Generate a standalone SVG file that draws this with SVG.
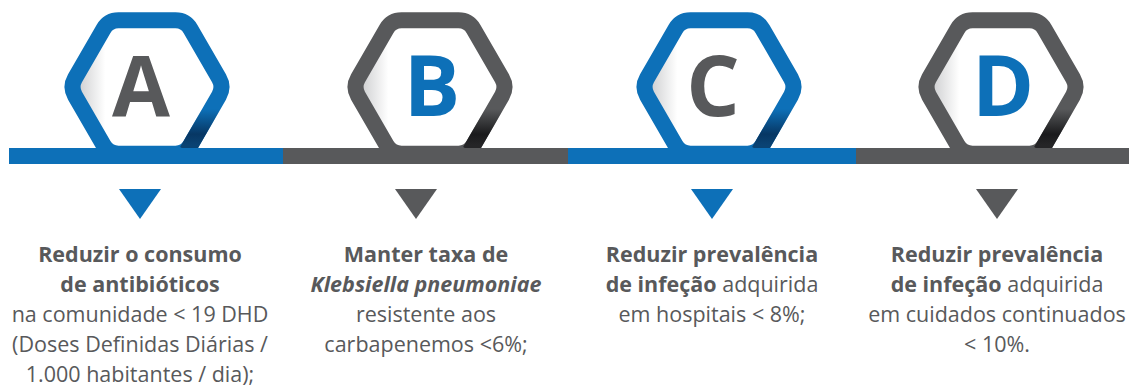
<svg xmlns="http://www.w3.org/2000/svg" xmlns:xlink="http://www.w3.org/1999/xlink" width="1129" height="390" viewBox="0 0 1129 390">
<style>
.blue-s{stroke:#0d70b8}
.gray-s{stroke:#58595b}
.hexline{fill:none;stroke-width:16}
.letter{font-family:"Open Sans","Liberation Sans",sans-serif;font-weight:700;font-size:84px;text-anchor:middle}
.lb{fill:#0d70b8}
.lg{fill:#58595b}
.txt{font-family:"Open Sans","Liberation Sans",sans-serif;font-size:21.5px;fill:#58595b;text-anchor:middle}
.b{font-weight:700}
.bi{font-weight:700;font-style:italic}
</style>
<defs>
<path id="hex" d="M -28.5,-66.7 L 28.5,-66.7 Q 38.5,-66.7 43.5,-58.04 L 72,-8.66 Q 77,0 72,8.66 L 43.5,58.04 Q 38.5,66.7 28.5,66.7 L -28.5,66.7 Q -38.5,66.7 -43.5,58.04 L -72,8.66 Q -77,0 -72,-8.66 L -43.5,-58.04 Q -38.5,-66.7 -28.5,-66.7 Z"/>
<linearGradient id="inner" x1="0" y1="0" x2="1" y2="0">
<stop offset="0" stop-color="#c4c5c7"/>
<stop offset="0.22" stop-color="#ffffff"/>
<stop offset="1" stop-color="#ffffff"/>
</linearGradient>
<linearGradient id="shB" gradientUnits="userSpaceOnUse" x1="0" y1="22" x2="0" y2="58">
<stop offset="0" stop-color="#073764" stop-opacity="0"/>
<stop offset="0.7" stop-color="#073764" stop-opacity="1"/>
<stop offset="1" stop-color="#0a4373" stop-opacity="1"/>
</linearGradient>
<linearGradient id="shG" gradientUnits="userSpaceOnUse" x1="0" y1="22" x2="0" y2="58">
<stop offset="0" stop-color="#1a1a1c" stop-opacity="0"/>
<stop offset="0.7" stop-color="#1a1a1c" stop-opacity="1"/>
<stop offset="1" stop-color="#252527" stop-opacity="1"/>
</linearGradient>
<path id="shpath" d="M 72,8.66 L 43.5,58.04 L 40,64"/>
</defs>

<g id="node-A">
<g transform="translate(147,87)">
<use xlink:href="#hex" fill="url(#inner)"/>
<use xlink:href="#hex" class="hexline blue-s"/>
<use xlink:href="#shpath" fill="none" stroke="url(#shB)" stroke-width="16"/>
</g>
<text class="letter lg" x="141" y="116">A</text>
</g>

<g id="node-B">
<g transform="translate(430,87)">
<use xlink:href="#hex" fill="url(#inner)"/>
<use xlink:href="#hex" class="hexline gray-s"/>
<use xlink:href="#shpath" fill="none" stroke="url(#shG)" stroke-width="16"/>
</g>
<text class="letter lb" x="432" y="116">B</text>
</g>

<g id="node-C">
<g transform="translate(719,87)">
<use xlink:href="#hex" fill="url(#inner)"/>
<use xlink:href="#hex" class="hexline blue-s"/>
<use xlink:href="#shpath" fill="none" stroke="url(#shB)" stroke-width="16"/>
</g>
<text class="letter lg" x="713" y="116">C</text>
</g>

<g id="node-D">
<g transform="translate(1001,87)">
<use xlink:href="#hex" fill="url(#inner)"/>
<use xlink:href="#hex" class="hexline gray-s"/>
<use xlink:href="#shpath" fill="none" stroke="url(#shG)" stroke-width="16"/>
</g>
<text class="letter lb" x="1003" y="116">D</text>
</g>

<g id="connectors">
<rect x="9" y="148" width="274" height="16" fill="#0d70b8"/>
<rect x="283" y="148" width="285" height="16" fill="#58595b"/>
<rect x="568" y="148" width="288" height="16" fill="#0d70b8"/>
<rect x="856" y="148" width="273" height="16" fill="#58595b"/>
<polygon points="119,189 161,189 140,219" fill="#0d70b8"/>
<polygon points="395,189 437,189 416,219" fill="#58595b"/>
<polygon points="691,189 733,189 712,219" fill="#0d70b8"/>
<polygon points="976,189 1018,189 997,219" fill="#58595b"/>
</g>

<g id="text-A">
<text class="txt" x="140" y="262"><tspan class="b">Reduzir o consumo</tspan></text>
<text class="txt" x="140" y="292"><tspan class="b">de antibióticos</tspan></text>
<text class="txt" x="140" y="322">na comunidade &lt; 19 DHD</text>
<text class="txt" x="140" y="352">(Doses Definidas Diárias /</text>
<text class="txt" x="140" y="382">1.000 habitantes / dia);</text>
</g>

<g id="text-B">
<text class="txt" x="426" y="262"><tspan class="b">Manter taxa de</tspan></text>
<text class="txt" x="426" y="292"><tspan class="bi">Klebsiella pneumoniae</tspan></text>
<text class="txt" x="426" y="322">resistente aos</text>
<text class="txt" x="426" y="352">carbapenemos &lt;6%;</text>
</g>

<g id="text-C">
<text class="txt" x="712" y="262"><tspan class="b">Reduzir prevalência</tspan></text>
<text class="txt" x="712" y="292"><tspan class="b">de infeção</tspan> adquirida</text>
<text class="txt" x="712" y="322">em hospitais &lt; 8%;</text>
</g>

<g id="text-D">
<text class="txt" x="997" y="262"><tspan class="b">Reduzir prevalência</tspan></text>
<text class="txt" x="997" y="292"><tspan class="b">de infeção</tspan> adquirida</text>
<text class="txt" x="997" y="322">em cuidados continuados</text>
<text class="txt" x="997" y="352">&lt; 10%.</text>
</g>
</svg>
